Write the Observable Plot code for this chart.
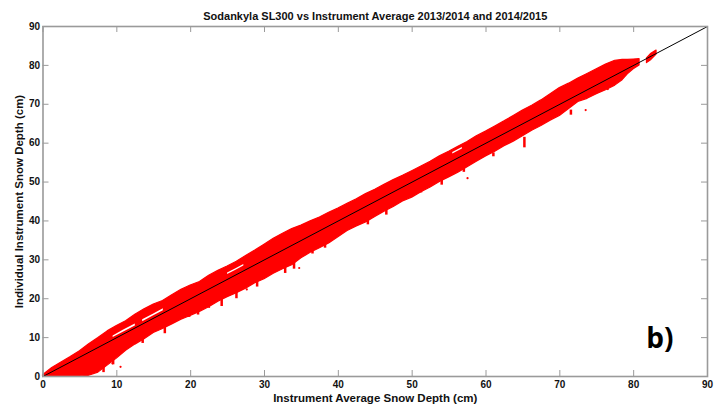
<!DOCTYPE html>
<html>
<head>
<meta charset="utf-8">
<script src="https://cdn.jsdelivr.net/npm/d3@7"></script>
<script src="https://cdn.jsdelivr.net/npm/@observablehq/plot@0.6"></script>
<style>
  html, body { margin: 0; padding: 0; background: #fff; }
  #chart svg { display: block; }
</style>
</head>
<body>
<div id="chart"></div>
<script>
// ---- data ----
const titleText = "Sodankyla SL300 vs Instrument Average 2013/2014 and 2014/2015";
const xLabel = "Instrument Average Snow Depth (cm)";
const yLabel = "Individual Instrument Snow Depth (cm)";
const panelLabel = "b)";
const xTicks = [0, 10, 20, 30, 40, 50, 60, 70, 80, 90];
const yTicks = [0, 10, 20, 30, 40, 50, 60, 70, 80, 90];

// envelope of the dense scatter cloud (instrument average vs individual)
const bandX = [0, 1.25, 2.5, 3.75, 5, 6.25, 7.5, 8.75, 10, 11.25, 12.5, 13.75, 15, 16.25, 17.5, 18.75, 20, 21.25, 22.5, 23.75, 25, 26.25, 27.5, 28.75, 30, 31.25, 32.5, 33.75, 35, 36.25, 37.5, 38.75, 40, 41.25, 42.5, 43.75, 45, 46.25, 47.5, 48.75, 50, 51.25, 52.5, 53.75, 55, 56.25, 57.5, 58.75, 60, 61.25, 62.5, 63.75, 65, 66.25, 67.5, 68.75, 70, 71.25, 72.5, 73.75, 75, 76.25, 77.5, 78.5, 79.2, 80.0, 80.8];
const bandUpper = [0.3, 2.2, 3.6, 5.0, 6.5, 8.3, 9.9, 11.6, 13.0, 14.2, 15.9, 17.3, 18.5, 19.4, 20.9, 22.3, 23.4, 24.3, 25.9, 27.2, 28.3, 29.5, 31.0, 32.4, 33.9, 35.4, 36.7, 37.9, 38.8, 39.9, 40.9, 42.1, 43.2, 44.4, 45.6, 46.9, 48.0, 49.3, 50.5, 51.6, 52.8, 54.0, 55.2, 56.6, 57.8, 59.1, 60.3, 61.8, 63.0, 64.3, 65.6, 67.0, 68.4, 69.6, 71.0, 72.6, 74.2, 75.3, 76.6, 77.8, 79.0, 80.2, 81.2, 81.4, 81.4, 81.5, 81.6];
const bandLower = [0, 0, 0, 0, 0, 0.2, 1.0, 2.8, 4.6, 6.6, 8.2, 9.6, 11.2, 12.2, 13.4, 14.6, 15.6, 16.6, 17.8, 19.2, 20.4, 21.4, 22.6, 24.0, 25.0, 26.4, 27.6, 28.6, 30.4, 31.8, 33.0, 34.2, 35.8, 37.4, 38.6, 39.6, 41.0, 42.4, 43.6, 45.0, 46.0, 47.4, 48.6, 50.0, 51.2, 52.4, 53.8, 55.2, 56.6, 57.8, 59.2, 60.4, 61.8, 63.2, 64.4, 65.8, 67.0, 68.8, 70.6, 71.4, 72.6, 73.6, 74.8, 76.2, 77.7, 79.0, 80.0];

// end piece of the cloud, detached near the 1:1 line
const tipX     = [81.8, 82.4, 83.1];
const tipUpper = [81.8, 83.0, 83.8];
const tipLower = [80.6, 81.4, 82.8];

// thin empty slivers inside the cloud
const gapX      = [[9.5, 11, 12.5], [13.5, 15, 16.3], [25, 26.2, 27.2], [55.5, 56.8]];
const gapTop    = [[10.4, 12.0, 13.5], [14.6, 16.1, 17.4], [26.6, 27.8, 28.8], [57.6, 58.9]];
const gapBottom = [[10.0, 11.5, 13.0], [14.1, 15.6, 16.9], [26.2, 27.4, 28.4], [57.2, 58.5]];

// downward streaks of points below the main cloud
const streakX      = [6.0, 8.2, 9.5, 13.5, 16.5, 19.8, 21.0, 24.2, 26.2, 29.0, 32.8, 34.0, 36.5, 38.2, 44.0, 46.5, 51.2, 54.0, 57.0, 61.0, 65.2, 71.5];
const streakTop    = [2.0, 3.0, 6.0, 10.5, 13.0, 16.5, 17.5, 20.0, 22.0, 25.0, 28.5, 30.0, 33.0, 34.5, 40.5, 43.0, 48.0, 50.5, 53.5, 57.5, 61.5, 68.5];
const streakBottom = [0.0, 1.0, 3.0, 8.5, 11.0, 15.2, 15.8, 18.0, 20.0, 23.0, 26.5, 27.6, 31.5, 33.0, 39.0, 41.5, 47.2, 49.2, 52.5, 56.5, 58.8, 67.2];

// isolated points
const dotX = [9.4, 10.5, 22.5, 27.6, 34.7, 73.5, 76.5, 57.5];
const dotY = [3.4, 2.5, 17.9, 22.4, 27.9, 68.5, 73.9, 51.0];

// 1:1 reference line end points
const lineX = [0, 90];
const lineY = [0, 90];

// ---- layout ----
const W = 726, H = 411;
const mL = 42.5, mR = 19, mT = 26, mB = 35;
const innerH = H - mT - mB;
const innerW = W - mL - mR;
const tick = 6;
const axisGrey = "#9a9a9a";
const font = "'Liberation Sans', Arial, sans-serif";

const band = bandX.map((x, i) => ({x, lo: bandLower[i], hi: bandUpper[i]}));
const tip = tipX.map((x, i) => ({x, lo: tipLower[i], hi: tipUpper[i]}));
const gaps = gapX.flatMap((xs, g) => xs.map((x, i) => ({g, x, lo: gapBottom[g][i], hi: gapTop[g][i]})));
const streaks = streakX.map((x, i) => ({x, y1: streakBottom[i], y2: streakTop[i]}));
const dots = dotX.map((x, i) => ({x, y: dotY[i]}));
const oneToOne = lineX.map((x, i) => ({x, y: lineY[i]}));

const chart = Plot.plot({
  width: W,
  height: H,
  marginLeft: mL,
  marginRight: mR,
  marginTop: mT,
  marginBottom: mB,
  style: {fontFamily: font, background: "#fff"},
  x: {domain: [0, 90]},
  y: {domain: [0, 90]},
  marks: [
    Plot.areaY(band, {x: "x", y1: "lo", y2: "hi", fill: "#ff0000", stroke: "#ff0000", strokeWidth: 1.2}),
    Plot.areaY(tip, {x: "x", y1: "lo", y2: "hi", fill: "#ff0000", stroke: "#ff0000", strokeWidth: 1.2}),
    Plot.areaY(gaps, {x: "x", y1: "lo", y2: "hi", z: "g", fill: "#ffffff"}),
    Plot.ruleX(streaks, {x: "x", y1: "y1", y2: "y2", stroke: "#ff0000", strokeWidth: 2.5}),
    Plot.dot(dots, {x: "x", y: "y", r: 1.1, fill: "#ff0000"}),
    Plot.line(oneToOne, {x: "x", y: "y", stroke: "#000", strokeWidth: 1}),
    // inward ticks on all four sides
    Plot.ruleX(xTicks, {x: d => d, insetTop: innerH - tick, stroke: axisGrey, strokeWidth: 1}),
    Plot.ruleX(xTicks, {x: d => d, insetBottom: innerH - tick, stroke: axisGrey, strokeWidth: 1}),
    Plot.ruleY(yTicks, {y: d => d, insetRight: innerW - tick, stroke: axisGrey, strokeWidth: 1}),
    Plot.ruleY(yTicks, {y: d => d, insetLeft: innerW - tick, stroke: axisGrey, strokeWidth: 1}),
    Plot.frame({stroke: axisGrey, strokeWidth: 1.6}),
    Plot.axisX(xTicks, {tickSize: 0, tickPadding: 4, fontSize: 10, fontWeight: "bold", fill: "#111", label: null}),
    Plot.axisY(yTicks, {tickSize: 0, tickPadding: 3, fontSize: 10, fontWeight: "bold", fill: "#111", label: null}),
    Plot.text([xLabel], {text: d => d, frameAnchor: "bottom", dy: 25, fontSize: 11.5, fontWeight: "bold", fill: "#111"}),
    Plot.text([yLabel], {text: d => d, frameAnchor: "left", dx: -24, rotate: -90, textAnchor: "middle", fontSize: 11.5, fontWeight: "bold", fill: "#111"}),
    Plot.text([titleText], {text: d => d, frameAnchor: "top", dy: -14, fontSize: 11, fontWeight: "bold", fill: "#111"}),
    Plot.text([panelLabel], {text: d => d, frameAnchor: "bottom-right", dx: -34, dy: -29, fontSize: 28, fontWeight: "bold", fill: "#000", fontFamily: "'Open Sans', sans-serif", textAnchor: "end"})
  ]
});

document.getElementById("chart").appendChild(chart);
</script>
</body>
</html>
